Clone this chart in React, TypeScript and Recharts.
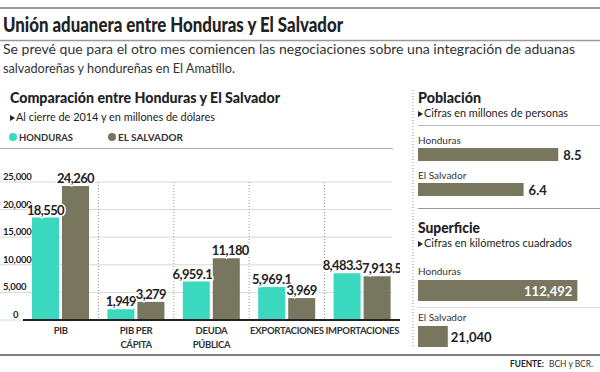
import React from "react";
import {
  BarChart,
  Bar,
  XAxis,
  YAxis,
  CartesianGrid,
  LabelList,
} from "recharts";

const CATEGORIES = ["PIB", "PIB PER\nCÁPITA", "DEUDA\nPÚBLICA", "EXPORTACIONES", "IMPORTACIONES"];
const HONDURAS = [18550, 1949, 6959.1, 5969.1, 8483.3];
const EL_SALVADOR = [24260, 3279, 11180, 3969, 7913.5];
const Y_TICKS = [0, 5000, 10000, 15000, 20000, 25000];

const COUNTRIES = ["Honduras", "El Salvador"];
const POBLACION = [8.5, 6.4];
const SUPERFICIE = [112492, 21040];

const TEAL = "#3bd8c0";
const OLIVE = "#78765f";
const INK = "#222";
const FONT = "Lato, 'Noto Sans', sans-serif";

const fmt = (v: number) => v.toLocaleString("en-US", { maximumFractionDigits: 1 });

const mainData = CATEGORIES.map((name, i) => ({
  name,
  hn: HONDURAS[i],
  sv: EL_SALVADOR[i],
}));
const popData = COUNTRIES.map((name, i) => ({ name, v: POBLACION[i] }));
const supData = COUNTRIES.map((name, i) => ({ name, v: SUPERFICIE[i] }));

// rough width of a bold 13px label, used to push colliding labels apart
const labelWidth = (v: number) =>
  fmt(v)
    .split("")
    .reduce((s, c) => s + (/[0-9]/.test(c) ? 6.6 : 2.6), 0);
const BAR_W = 27;
const BAR_GAP = 3;
const labelShift = (i: number) => {
  const need = (labelWidth(HONDURAS[i]) + labelWidth(EL_SALVADOR[i])) / 2 + 1;
  const have = BAR_W + BAR_GAP;
  return need > have + 7 ? (need - have) / 2 : 0;
};

const YTick = ({ y, payload }: any) => (
  <text
    x={payload.value === 0 ? 13 : 3}
    y={y - 2}
    fontSize={9.5}
    fontWeight={700}
    fill={INK}
    fontFamily={FONT}
    letterSpacing={-0.2}
  >
    {fmt(payload.value)}
  </text>
);

const XTick = ({ x, y, payload }: any) => {
  const lines = String(payload.value).split("\n");
  return (
    <text textAnchor="middle" fontSize={9.5} fontWeight={700} fill="#333" fontFamily={FONT} letterSpacing={-0.3}>
      {lines.map((l, i) => (
        <tspan key={i} x={x} y={y + 14 + i * 14}>
          {l}
        </tspan>
      ))}
    </text>
  );
};

const TopLabel = (dir: number) => (props: any) => {
  const { x, y, width, value, index } = props;
  return (
    <text
      x={x + width / 2 + dir * labelShift(index)}
      y={y - 3}
      textAnchor="middle"
      fontSize={13}
      fontWeight={700}
      fill={INK}
      fontFamily={FONT}
      letterSpacing={-0.6}
      stroke="#fff"
      strokeWidth={3}
      paintOrder="stroke"
    >
      {fmt(value)}
    </text>
  );
};

const NameTick = (offsetY: number) => ({ y, payload }: any) => (
  <text x={1} y={y - offsetY} fontSize={10} fill="#333" fontFamily={FONT}>
    {payload.value}
  </text>
);

const PopLabel = (props: any) => {
  const { x, y, width, height, value } = props;
  return (
    <text x={x + width + 5} y={y + height / 2 + 5} fontSize={13} fontWeight={700} fill={INK} fontFamily={FONT}>
      {fmt(value)}
    </text>
  );
};

const SUP_MAX = 120000;
const SupLabel = (props: any) => {
  const { x, y, width, height, value } = props;
  const inside = value > SUP_MAX / 2;
  return (
    <text
      x={inside ? x + width - 5 : x + width + 3}
      y={y + height / 2 + 5}
      textAnchor={inside ? "end" : "start"}
      fontSize={13}
      fontWeight={700}
      fill={inside ? "#fff" : INK}
      fontFamily={FONT}
    >
      {fmt(value)}
    </text>
  );
};

const Tri = ({ x, y }: { x: number; y: number }) => (
  <path d={`M${x},${y - 6} L${x + 5},${y - 3} L${x},${y} Z`} fill={INK} />
);

const GridLine = (props: any) => (
  <line key={props.key ?? props.index} x1={0} x2={392} y1={props.y1} y2={props.y2} stroke="#d8d8d8" strokeWidth={1} />
);

export default function App() {
  return (
    <div style={{ position: "absolute", left: 0, top: 0, width: 600, height: 372, background: "#fff", fontFamily: FONT }}>
      <svg width={600} height={372} style={{ position: "absolute", left: 0, top: 0 }}>
        <line x1={0} x2={600} y1={8} y2={8} stroke="#999" strokeWidth={2} />
        <text x={3} y={32} fontSize={20} fontWeight={900} fill={INK} textLength={340} lengthAdjust="spacingAndGlyphs">
          Unión aduanera entre Honduras y El Salvador
        </text>
        <line x1={0} x2={600} y1={40.5} y2={40.5} stroke="#999" strokeWidth={1.5} />
        <text x={3} y={54} fontSize={14} fill="#333" textLength={572} lengthAdjust="spacingAndGlyphs">
          Se prevé que para el otro mes comiencen las negociaciones sobre una integración de aduanas
        </text>
        <text x={3} y={73} fontSize={14} fill="#333" textLength={232} lengthAdjust="spacingAndGlyphs">
          salvadoreñas y hondureñas en El Amatillo.
        </text>

        <text x={10} y={103} fontSize={15} fontWeight={900} fill={INK} textLength={270} lengthAdjust="spacingAndGlyphs">
          Comparación entre Honduras y El Salvador
        </text>
        <Tri x={10} y={121} />
        <text x={16} y={121} fontSize={11} fill={INK} textLength={199} lengthAdjust="spacingAndGlyphs">
          Al cierre de 2014 y en millones de dólares
        </text>
        <circle cx={13} cy={137} r={4} fill={TEAL} />
        <text x={19} y={140.5} fontSize={10} fontWeight={700} fill="#333" textLength={54} lengthAdjust="spacingAndGlyphs">
          HONDURAS
        </text>
        <circle cx={112} cy={137} r={4} fill={OLIVE} />
        <text x={118} y={140.5} fontSize={10} fontWeight={700} fill="#333" textLength={65} lengthAdjust="spacingAndGlyphs">
          EL SALVADOR
        </text>
        <line x1={0} x2={393} y1={148.5} y2={148.5} stroke="#aaa" strokeWidth={1} />

        <line x1={413} x2={413} y1={90} y2={348} stroke="#999" strokeWidth={1} strokeDasharray="1 2" />
        <text x={418} y={103} fontSize={15} fontWeight={900} fill={INK} textLength={63} lengthAdjust="spacingAndGlyphs">
          Población
        </text>
        <Tri x={418} y={117} />
        <text x={424} y={117} fontSize={11} fill={INK} textLength={144} lengthAdjust="spacingAndGlyphs">
          Cifras en millones de personas
        </text>
        <line x1={418} x2={600} y1={125.5} y2={125.5} stroke="#bbb" strokeWidth={1} />
        <line x1={418} x2={600} y1={208.5} y2={208.5} stroke="#999" strokeWidth={1} />
        <text x={418} y={233} fontSize={15} fontWeight={900} fill={INK} textLength={62} lengthAdjust="spacingAndGlyphs">
          Superficie
        </text>
        <Tri x={418} y={247} />
        <text x={424} y={247} fontSize={11} fill={INK} textLength={148} lengthAdjust="spacingAndGlyphs">
          Cifras en kilómetros cuadrados
        </text>
        <line x1={418} x2={600} y1={307.5} y2={307.5} stroke="#ddd" strokeWidth={1} />

        <line x1={0} x2={600} y1={355} y2={355} stroke="#555" strokeWidth={1.5} />
        <text x={510} y={367} fontSize={10} fontWeight={700} fill={INK} textLength={34} lengthAdjust="spacingAndGlyphs">
          FUENTE:
        </text>
        <text x={549} y={367} fontSize={10} fill="#333" textLength={44} lengthAdjust="spacingAndGlyphs">
          BCH y BCR.
        </text>
      </svg>

      <div style={{ position: "absolute", left: 0, top: 161 }}>
        <BarChart
          width={400}
          height={200}
          data={mainData}
          margin={{ top: 21, right: 0, bottom: 0, left: 0 }}
          barSize={BAR_W}
          barGap={BAR_GAP}
          style={{ overflow: "visible" }}
        >
          <CartesianGrid vertical={false} horizontal={GridLine} />
          <CartesianGrid
            horizontal={false}
            stroke="#999"
            strokeDasharray="1 2"
            verticalCoordinatesGenerator={({ offset }: any) =>
              CATEGORIES.slice(1).map(
                (_, i) => offset.left + ((i + 1) * offset.width) / CATEGORIES.length
              )
            }
          />
          <XAxis
            dataKey="name"
            height={41}
            tickLine={false}
            tickSize={0}
            tickMargin={0}
            interval={0}
            axisLine={{ stroke: INK, strokeWidth: 2 }}
            tick={<XTick />}
          />
          <YAxis
            domain={[0, 25000]}
            ticks={Y_TICKS}
            interval={0}
            width={23}
            axisLine={false}
            tickLine={false}
            tick={<YTick />}
          />
          <Bar dataKey="hn" fill={TEAL} isAnimationActive={false}>
            <LabelList dataKey="hn" content={TopLabel(-1)} />
          </Bar>
          <Bar dataKey="sv" fill={OLIVE} isAnimationActive={false}>
            <LabelList dataKey="sv" content={TopLabel(1)} />
          </Bar>
        </BarChart>
      </div>

      <div style={{ position: "absolute", left: 417, top: 136.5 }}>
        <BarChart
          layout="vertical"
          width={183}
          height={70}
          data={popData}
          margin={{ top: 0, right: 17, bottom: 0, left: 0 }}
          barSize={13}
          style={{ overflow: "visible" }}
        >
          <XAxis type="number" domain={[0, 10]} hide />
          <YAxis type="category" dataKey="name" width={1} axisLine={false} tickLine={false} tick={NameTick(10.5)} />
          <Bar dataKey="v" fill={OLIVE} isAnimationActive={false}>
            <LabelList dataKey="v" content={<PopLabel />} />
          </Bar>
        </BarChart>
      </div>

      <div style={{ position: "absolute", left: 417, top: 266.5 }}>
        <BarChart
          layout="vertical"
          width={183}
          height={92}
          data={supData}
          margin={{ top: 0, right: 12, bottom: 0, left: 0 }}
          barSize={21}
          style={{ overflow: "visible" }}
        >
          <XAxis type="number" domain={[0, SUP_MAX]} hide />
          <YAxis type="category" dataKey="name" width={1} axisLine={false} tickLine={false} tick={NameTick(15.5)} />
          <Bar dataKey="v" fill={OLIVE} isAnimationActive={false}>
            <LabelList dataKey="v" content={<SupLabel />} />
          </Bar>
        </BarChart>
      </div>
    </div>
  );
}
